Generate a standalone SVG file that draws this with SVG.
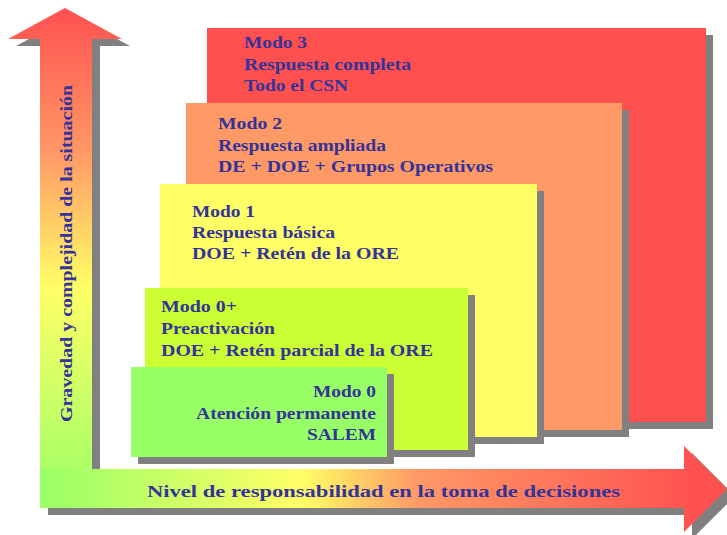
<svg xmlns="http://www.w3.org/2000/svg" width="727" height="535" viewBox="0 0 727 535">
<defs>
<linearGradient id="gv" gradientUnits="userSpaceOnUse" x1="0" y1="8" x2="0" y2="508">
<stop offset="0" stop-color="#FF5050"/>
<stop offset="0.29" stop-color="#FF9966"/>
<stop offset="0.56" stop-color="#FFFF66"/>
<stop offset="1" stop-color="#99FF66"/>
</linearGradient>
<linearGradient id="gh" gradientUnits="userSpaceOnUse" x1="40" y1="0" x2="727" y2="0">
<stop offset="0" stop-color="#99FF66"/>
<stop offset="0.38" stop-color="#FFFF66"/>
<stop offset="0.55" stop-color="#FF9966"/>
<stop offset="0.96" stop-color="#FF5050"/>
</linearGradient>
<style>
.sh{fill:#808080}
.t{font-family:"Liberation Serif","Times New Roman",serif;font-weight:bold;font-size:17px;fill:#333399}
</style>
</defs>
<rect width="727" height="535" fill="#FFFFFF"/>
<g id="axes">
<g transform="translate(8,7)" class="sh">
<polygon points="65,8 122,39 92,39 92,508 40,508 40,39 8,39"/>
<polygon points="40,469 684,469 684,446 727,489 684,532 684,508 40,508"/>
</g>
<polygon id="axis-y" points="65,8 122,39 92,39 92,508 40,508 40,39 8,39" fill="url(#gv)"/>
<polygon id="axis-x" points="40,469 684,469 684,446 727,489 684,532 684,508 40,508" fill="url(#gh)"/>
<text class="t" transform="translate(72,422) rotate(-90)" x="0" y="0" textLength="337" lengthAdjust="spacingAndGlyphs">Gravedad y complejidad de la situación</text>
<text class="t" style="font-size:17.5px" x="147" y="497" textLength="473" lengthAdjust="spacingAndGlyphs">Nivel de responsabilidad en la toma de decisiones</text>
</g>
<g id="modo3">
<rect class="sh" x="214" y="35" width="499" height="394"/>
<rect x="207" y="28" width="499" height="394" fill="#FF5050"/>
<text class="t" x="244" y="48" textLength="63" lengthAdjust="spacingAndGlyphs">Modo 3</text>
<text class="t" x="244" y="69.5" textLength="167" lengthAdjust="spacingAndGlyphs">Respuesta completa</text>
<text class="t" x="244" y="90.5" textLength="104" lengthAdjust="spacingAndGlyphs">Todo el CSN</text>
</g>
<g id="modo2">
<rect class="sh" x="193" y="110" width="436" height="327"/>
<rect x="186" y="103" width="436" height="327" fill="#FF9966"/>
<text class="t" x="218" y="129" textLength="64" lengthAdjust="spacingAndGlyphs">Modo 2</text>
<text class="t" x="218" y="150.5" textLength="168" lengthAdjust="spacingAndGlyphs">Respuesta ampliada</text>
<text class="t" x="218" y="171.5" textLength="275" lengthAdjust="spacingAndGlyphs">DE + DOE + Grupos Operativos</text>
</g>
<g id="modo1">
<rect class="sh" x="167" y="191" width="377" height="253"/>
<rect x="160" y="184" width="377" height="253" fill="#FFFF66"/>
<text class="t" x="192" y="216.5" textLength="63" lengthAdjust="spacingAndGlyphs">Modo 1</text>
<text class="t" x="192" y="238" textLength="143" lengthAdjust="spacingAndGlyphs">Respuesta básica</text>
<text class="t" x="192" y="259" textLength="207" lengthAdjust="spacingAndGlyphs">DOE + Retén de la ORE</text>
</g>
<g id="modo0plus">
<rect class="sh" x="152" y="295" width="323" height="162"/>
<rect x="145" y="288" width="323" height="162" fill="#CCFF33"/>
<text class="t" x="161" y="312" textLength="76" lengthAdjust="spacingAndGlyphs">Modo 0+</text>
<text class="t" x="161" y="334" textLength="114" lengthAdjust="spacingAndGlyphs">Preactivación</text>
<text class="t" x="161" y="355.5" textLength="272" lengthAdjust="spacingAndGlyphs">DOE + Retén parcial de la ORE</text>
</g>
<g id="modo0">
<rect class="sh" x="138" y="374" width="256" height="90"/>
<rect x="131" y="367" width="256" height="90" fill="#99FF66"/>
<text class="t" x="313" y="397" textLength="63" lengthAdjust="spacingAndGlyphs">Modo 0</text>
<text class="t" x="196" y="418.5" textLength="180" lengthAdjust="spacingAndGlyphs">Atención permanente</text>
<text class="t" x="307" y="440" textLength="69" lengthAdjust="spacingAndGlyphs">SALEM</text>
</g>
</svg>
